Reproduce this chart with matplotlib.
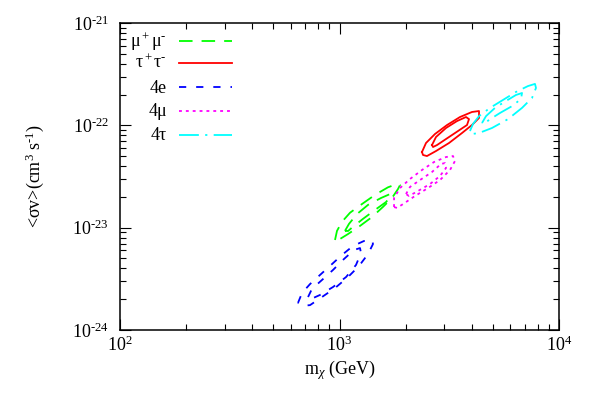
import numpy as np
import matplotlib
matplotlib.use('Agg')
import matplotlib.pyplot as plt
from matplotlib.ticker import LogLocator, FixedLocator, NullFormatter

plt.rcParams['font.family'] = ['Liberation Serif', 'DejaVu Serif']
plt.rcParams['mathtext.fontset'] = 'custom'
plt.rcParams['mathtext.rm'] = 'Liberation Serif'
plt.rcParams['mathtext.it'] = 'Liberation Serif:italic'
plt.rcParams['mathtext.bf'] = 'Liberation Serif:bold'

# contours: m_chi in GeV, <sigma v> in cm^3 s^-1
MUMU_OUT_M = [954, 974, 1026, 1117, 1265, 1451, 1663, 1827, 1887, 1846, 1734, 1580, 1406, 1240, 1094, 1005]
MUMU_OUT_SV = [7.58e-24, 9.3e-24, 1.14e-23, 1.40e-23, 1.70e-23, 2.09e-23, 2.48e-23, 2.67e-23,
               2.61e-23, 2.38e-23, 1.95e-23, 1.60e-23, 1.27e-23, 1.04e-23, 8.67e-24, 7.75e-24]
MUMU_IN_M = [1059, 1105, 1202, 1349, 1546, 1699, 1717, 1629, 1451, 1280, 1152, 1094]
MUMU_IN_SV = [9.3e-24, 1.09e-23, 1.36e-23, 1.67e-23, 1.95e-23, 2.13e-23, 2.04e-23, 1.78e-23,
              1.49e-23, 1.22e-23, 1.02e-23, 9.28e-24]

TAUTAU_OUT_M = [2376, 2478, 2723, 3090, 3540, 4013, 4321, 4321, 4013, 3614, 3155, 2752, 2503, 2401]
TAUTAU_OUT_SV = [5.49e-23, 6.72e-23, 8.23e-23, 1.007e-22, 1.206e-22, 1.35e-22, 1.38e-22,
                 1.18e-22, 1.007e-22, 8.41e-23, 6.72e-23, 5.61e-23, 5.01e-23, 5.13e-23]
TAUTAU_IN_M = [2639, 2752, 3057, 3428, 3770, 3890, 3810, 3467, 3057, 2782, 2667]
TAUTAU_IN_SV = [6.42e-23, 7.69e-23, 9.42e-23, 1.10e-22, 1.206e-22, 1.15e-22, 1.007e-22,
                8.80e-23, 7.35e-23, 6.42e-23, 6.14e-23]

E4_OUT_M = [647, 675, 734, 815, 915, 1026, 1152, 1293, 1406, 1421, 1349, 1227, 1093, 954, 832, 734, 675]
E4_OUT_SV = [1.84e-24, 2.30e-24, 2.81e-24, 3.45e-24, 4.32e-24, 5.41e-24, 6.62e-24, 7.41e-24, 7.58e-24,
             6.92e-24, 5.53e-24, 4.22e-24, 3.29e-24, 2.57e-24, 2.10e-24, 1.75e-24, 1.72e-24]
E4_IN_M = [719, 749, 832, 934, 1048, 1164, 1240, 1253, 1189, 1071, 934, 815, 742]
E4_IN_SV = [2.10e-24, 2.52e-24, 3.08e-24, 3.86e-24, 4.94e-24, 6.05e-24, 6.32e-24, 5.65e-24,
            4.32e-24, 3.29e-24, 2.63e-24, 2.20e-24, 2.01e-24]

MU4_OUT_M = [1772, 1772, 1887, 2095, 2376, 2695, 3057, 3289, 3358, 3187, 2870, 2531, 2208, 1947, 1828]
MU4_OUT_SV = [1.59e-23, 1.95e-23, 2.44e-23, 2.99e-23, 3.66e-23, 4.38e-23, 4.90e-23, 5.01e-23,
              4.48e-23, 3.66e-23, 2.92e-23, 2.44e-23, 2.04e-23, 1.70e-23, 1.56e-23]
MU4_IN_M = [2009, 2095, 2327, 2639, 2900, 3024, 3057, 2870, 2584, 2278, 2073]
MU4_IN_SV = [2.13e-23, 2.50e-23, 2.92e-23, 3.50e-23, 4.19e-23, 4.28e-23, 3.83e-23, 3.20e-23,
             2.67e-23, 2.28e-23, 2.04e-23]

TAU4_OUT_M = [3930, 4056, 4321, 4848, 5556, 6368, 7224, 7773, 7855, 7534, 6784, 5857, 4952, 4321, 4013]
TAU4_OUT_SV = [8.80e-23, 1.03e-22, 1.23e-22, 1.48e-22, 1.77e-22, 2.12e-22, 2.42e-22, 2.54e-22,
               2.32e-22, 1.85e-22, 1.48e-22, 1.15e-22, 9.42e-23, 8.41e-23, 8.23e-23]
TAU4_IN_M = [4459, 4650, 5109, 5735, 6368, 6784, 6713, 6108, 5384, 4799, 4553]
TAU4_IN_SV = [1.054e-22, 1.23e-22, 1.48e-22, 1.73e-22, 1.98e-22, 2.07e-22, 1.81e-22, 1.54e-22,
              1.32e-22, 1.13e-22, 1.03e-22]

LABELS = ['μ$^+$μ$^{\\text{-}}$', 'τ$^+$τ$^{\\text{-}}$', '4e', '4μ', '4τ']
COLORS = ['#00ff00', '#ff0000', '#0000ff', '#ff00ff', '#00ffff']
# dash patterns in units of line width (gnuplot-like)
DASHES = [(7.5, 5), None, (4, 5.5), (1.6, 2.2), (11, 3.5, 1.2, 3.5)]

X_TICKS = [1e2, 1e3, 1e4]
X_TICK_LABELS = ['$10^2$', '$10^3$', '$10^4$']
Y_TICKS = [1e-24, 1e-23, 1e-22, 1e-21]
Y_TICK_LABELS = ['$10^{\\text{-}24}$', '$10^{\\text{-}23}$', '$10^{\\text{-}22}$', '$10^{\\text{-}21}$']

LW = 1.3
FS = 13


def closed(m, sv):
    return np.append(m, m[0]), np.append(sv, sv[0])


def style(i):
    kw = dict(color=COLORS[i], lw=LW)
    if DASHES[i] is not None:
        kw['dashes'] = DASHES[i]
    return kw


def main():
    fig = plt.figure(figsize=(5.9, 4.13), dpi=100)
    ax = fig.add_axes([120 / 590, 1 - 330 / 413, 439 / 590, 307 / 413])

    contours = [
        [(MUMU_OUT_M, MUMU_OUT_SV), (MUMU_IN_M, MUMU_IN_SV)],
        [(TAUTAU_OUT_M, TAUTAU_OUT_SV), (TAUTAU_IN_M, TAUTAU_IN_SV)],
        [(E4_OUT_M, E4_OUT_SV), (E4_IN_M, E4_IN_SV)],
        [(MU4_OUT_M, MU4_OUT_SV), (MU4_IN_M, MU4_IN_SV)],
        [(TAU4_OUT_M, TAU4_OUT_SV), (TAU4_IN_M, TAU4_IN_SV)],
    ]
    for i, pair in enumerate(contours):
        for m, sv in pair:
            xm, ys = closed(m, sv)
            ax.plot(xm, ys, **style(i))

    ax.set_xscale('log')
    ax.set_yscale('log')
    ax.set_xlim(1e2, 1e4)
    ax.set_ylim(1e-24, 1e-21)

    ax.xaxis.set_major_locator(FixedLocator(X_TICKS))
    ax.set_xticklabels(X_TICK_LABELS)
    ax.yaxis.set_major_locator(FixedLocator(Y_TICKS))
    ax.set_yticklabels(Y_TICK_LABELS)
    ax.xaxis.set_minor_locator(LogLocator(base=10, subs=np.arange(2, 10)))
    ax.yaxis.set_minor_locator(LogLocator(base=10, subs=np.arange(2, 10)))
    ax.xaxis.set_minor_formatter(NullFormatter())
    ax.yaxis.set_minor_formatter(NullFormatter())

    ax.tick_params(which='both', direction='in', top=True, right=True, width=0.8, colors='black')
    ax.tick_params(which='major', length=8, labelsize=FS)
    ax.tick_params(which='minor', length=4)
    ax.tick_params(axis='x', pad=4)
    ax.tick_params(axis='y', pad=8)
    for sp in ax.spines.values():
        sp.set_linewidth(1.1)

    ax.set_xlabel('m$_{χ}$ (GeV)', fontsize=FS, va='top')
    ax.xaxis.set_label_coords(0.5, -0.092)
    ax.set_ylabel('<σv>(cm$^3$ s$^{\\text{-}1}$)', fontsize=FS)
    ax.yaxis.set_label_coords(-0.168, 0.5)

    # gnuplot style key: label right-aligned, sample to the right
    rows_y = [0.941, 0.870, 0.790, 0.714, 0.636]
    for i, lab in enumerate(LABELS):
        y = rows_y[i]
        ax.plot([0.134, 0.255], [y, y], transform=ax.transAxes, **style(i))
        ax.text(0.107, y - 0.018, lab, transform=ax.transAxes, ha='right', va='baseline', fontsize=FS)

    fig.savefig('out.png', dpi=100)


if __name__ == '__main__':
    main()
